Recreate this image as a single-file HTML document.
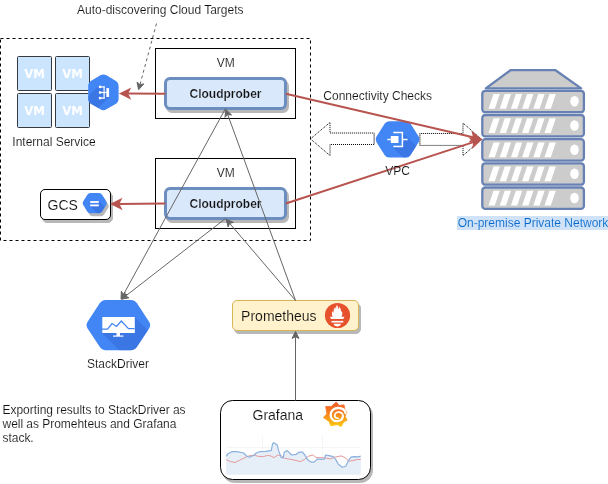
<!DOCTYPE html>
<html lang="en"><head><meta charset="utf-8"><title>Cloudprober architecture</title>
<style>html,body{margin:0;padding:0;background:#fff;overflow:hidden}svg{display:block}text{white-space:pre}</style>
</head><body>
<svg width="608" height="484" viewBox="0 0 608 484" style="will-change:transform">
<defs><linearGradient id="gg" x1="0" y1="0" x2="0" y2="1"><stop offset="0" stop-color="#f05a28"/><stop offset="0.45" stop-color="#f7811f"/><stop offset="1" stop-color="#fbca0a"/></linearGradient></defs>
<rect width="608" height="484" fill="#fff"/>
<rect x="0.5" y="38.5" width="310" height="202" fill="none" stroke="#000" stroke-dasharray="3 3"/>
<polygon points="310.5,138.9 330,122.4 330,133.0 374.2,133.0 374.2,144.5 330,144.5 330,155.6" fill="#fff" stroke="#000" stroke-dasharray="1 1"/>
<path d="M374.2 133.0V144.5" stroke="#a0a0a0" stroke-width="1.2" fill="none"/>
<polygon points="481.5,139.3 463,123.0 463,133.5 419.8,133.5 419.8,145.4 463,145.4 463,155.6" fill="#fff" stroke="#000" stroke-dasharray="1 1"/>
<path d="M419.8 133.5V145.4" stroke="#a0a0a0" stroke-width="1.2" fill="none"/>
<rect x="155.5" y="48.5" width="140" height="70" fill="#fff" stroke="#000"/>
<text x="225.8" y="66.5" font-family="'Liberation Sans', Arial, Helvetica, sans-serif" font-size="12px" font-weight="normal" text-anchor="middle" fill="#111" stroke="#fff" stroke-width="0.12">VM</text>
<rect x="155.5" y="158.5" width="140" height="70" fill="#fff" stroke="#000"/>
<text x="225.8" y="176.5" font-family="'Liberation Sans', Arial, Helvetica, sans-serif" font-size="12px" font-weight="normal" text-anchor="middle" fill="#111" stroke="#fff" stroke-width="0.12">VM</text>
<rect x="17.5" y="56.5" width="34" height="34" rx="1" fill="#cce5ff" stroke="#36393d"/>
<text x="34.5" y="78.0" font-family="'DejaVu Sans', 'Liberation Sans', sans-serif" font-size="11.7px" font-weight="bold" text-anchor="middle" fill="#fff">VM</text>
<rect x="55.5" y="56.5" width="34" height="34" rx="1" fill="#cce5ff" stroke="#36393d"/>
<text x="72.5" y="78.0" font-family="'DejaVu Sans', 'Liberation Sans', sans-serif" font-size="11.7px" font-weight="bold" text-anchor="middle" fill="#fff">VM</text>
<rect x="17.5" y="93.5" width="34" height="34" rx="1" fill="#cce5ff" stroke="#36393d"/>
<text x="34.5" y="115.0" font-family="'DejaVu Sans', 'Liberation Sans', sans-serif" font-size="11.7px" font-weight="bold" text-anchor="middle" fill="#fff">VM</text>
<rect x="55.5" y="93.5" width="34" height="34" rx="1" fill="#cce5ff" stroke="#36393d"/>
<text x="72.5" y="115.0" font-family="'DejaVu Sans', 'Liberation Sans', sans-serif" font-size="11.7px" font-weight="bold" text-anchor="middle" fill="#fff">VM</text>
<text x="54" y="146" font-family="'Liberation Sans', Arial, Helvetica, sans-serif" font-size="12px" font-weight="normal" text-anchor="middle" fill="#111" stroke="#fff" stroke-width="0.12">Internal Service</text>
<rect x="167.5" y="81.5" width="120" height="30" rx="4.5" ry="4.5" fill="#b8b8b8" stroke="#b8b8b8" stroke-width="3"/>
<rect x="165.5" y="78.5" width="120" height="30" rx="4.5" ry="4.5" fill="#dae8fc" stroke="#6c8ebf" stroke-width="3"/>
<text x="225.5" y="98.0" font-family="'Liberation Sans', Arial, Helvetica, sans-serif" font-size="12px" font-weight="bold" text-anchor="middle" fill="#111" stroke="#dae8fc" stroke-width="0.2">Cloudprober</text>
<rect x="167.5" y="191.5" width="120" height="30" rx="4.5" ry="4.5" fill="#b8b8b8" stroke="#b8b8b8" stroke-width="3"/>
<rect x="165.5" y="188.5" width="120" height="30" rx="4.5" ry="4.5" fill="#dae8fc" stroke="#6c8ebf" stroke-width="3"/>
<text x="225.5" y="208.0" font-family="'Liberation Sans', Arial, Helvetica, sans-serif" font-size="12px" font-weight="bold" text-anchor="middle" fill="#111" stroke="#dae8fc" stroke-width="0.2">Cloudprober</text>
<rect x="42.5" y="192.5" width="70" height="30" rx="4.5" ry="4.5" fill="#b8b8b8" stroke="#b8b8b8" stroke-width="1"/>
<rect x="40.5" y="189.5" width="70" height="30" rx="4.5" ry="4.5" fill="#fff" stroke="#000" stroke-width="1"/>
<text x="47.5" y="209.5" font-family="'Liberation Sans', Arial, Helvetica, sans-serif" font-size="14px" font-weight="normal" text-anchor="start" fill="#111" stroke="#fff" stroke-width="0.12">GCS</text>
<path d="M83.12 204.84Q82.06 203.15 83.12 201.46L87.32 194.79Q88.38 193.10 90.38 193.10L99.02 193.10Q101.02 193.10 102.08 194.79L106.28 201.46Q107.34 203.15 106.28 204.84L102.08 211.51Q101.02 213.20 99.02 213.20L90.38 213.20Q88.38 213.20 87.32 211.51Z" fill="#b8b8b8" transform="translate(2,3)"/>
<clipPath id="hx1"><path d="M83.12 204.84Q82.06 203.15 83.12 201.46L87.32 194.79Q88.38 193.10 90.38 193.10L99.02 193.10Q101.02 193.10 102.08 194.79L106.28 201.46Q107.34 203.15 106.28 204.84L102.08 211.51Q101.02 213.20 99.02 213.20L90.38 213.20Q88.38 213.20 87.32 211.51Z"/></clipPath>
<path d="M83.12 204.84Q82.06 203.15 83.12 201.46L87.32 194.79Q88.38 193.10 90.38 193.10L99.02 193.10Q101.02 193.10 102.08 194.79L106.28 201.46Q107.34 203.15 106.28 204.84L102.08 211.51Q101.02 213.20 99.02 213.20L90.38 213.20Q88.38 213.20 87.32 211.51Z" fill="#4285f4"/>
<g clip-path="url(#hx1)"><path d="M90.2 206.3L98.8 206.3L98.8 201.1L120 222.3L106 222.3Z" fill="#3367d6" opacity="0.5"/></g>
<g fill="#fff"><rect x="90.200" y="201.100" width="8.600" height="1.800"/><rect x="90.200" y="204.500" width="8.600" height="1.800"/></g>
<rect x="234.5" y="303.5" width="126" height="30" rx="4.5" ry="4.5" fill="#b8b8b8" stroke="#b8b8b8" stroke-width="1"/>
<rect x="232.5" y="300.5" width="126" height="30" rx="4.5" ry="4.5" fill="#fff2cc" stroke="#d6b656" stroke-width="1"/>
<text x="241.1" y="321" font-family="'Liberation Sans', Arial, Helvetica, sans-serif" font-size="14px" font-weight="normal" text-anchor="start" fill="#111" stroke="#fff2cc" stroke-width="0.12">Prometheus</text>
<circle cx="337.5" cy="315.5" r="12.6" fill="#e6522c"/>
<g fill="#fff"><path d="M336.900 304.800c0.900 1.600 1.500 2.900 1.300 4.500c0.700-0.700 1.100-1.700 1-2.800c1.400 1.800 2.100 3.800 1.800 5.800c0.500-0.300 0.700-0.900 0.800-1.500c0.800 2 0.700 4.100-0.300 6.100h-8.800c-1-2-1.100-4.200-0.200-5.900c0.200 0.800 0.500 1.400 1.100 1.800c-0.400-2.600 0.500-4.600 1.900-5.900c-0.100 0.800 0.100 1.500 0.500 2.100c0-1.500 0.300-2.900 0.900-4.200z"/><path d="M329.900 316.800h14.600l-1.200 2.300h-12.200z"/><rect x="331.500" y="320.900" width="11.800" height="1.600"/><path d="M333.500 323.700h7.600c-0.700 1.800-2 2.700-3.800 2.700s-3.100-0.900-3.800-2.700z"/></g>
<rect x="222.5" y="403.5" width="150" height="79" rx="12" ry="12" fill="#b8b8b8" stroke="#b8b8b8" stroke-width="1"/>
<rect x="220.5" y="400.5" width="150" height="79" rx="12" ry="12" fill="#fff" stroke="#000" stroke-width="1"/>
<text x="252.5" y="419.5" font-family="'Liberation Sans', Arial, Helvetica, sans-serif" font-size="14px" font-weight="normal" text-anchor="start" fill="#111" stroke="#fff" stroke-width="0.12">Grafana</text>
<path d="M226.5 447.500H361M262.500 435V474.500M322.500 435V474.500" stroke="#f4f5f7" fill="none"/>
<polygon points="226.2,456.3 227.9,453.7 231.8,451.7 237.1,451.7 243.7,453.0 247.0,456.3 249.6,457.2 254.2,455.0 256.2,453.0 259.5,451.7 266.1,451.4 271.3,450.4 272.6,443.8 273.9,442.7 277.2,445.1 278.6,450.4 281.2,457.6 283.2,458.0 284.2,452.3 287.1,450.6 289.7,453.0 291.7,455.0 296.3,454.3 298.9,452.3 302.2,451.9 304.9,455.0 307.5,459.6 310.8,461.9 314.1,462.2 317.4,458.9 321.3,459.3 324.6,458.9 325.5,455.0 329.2,455.6 333.2,456.7 335.8,459.6 338.4,464.2 342.4,467.2 345.7,466.2 348.3,460.9 350.9,457.2 354.2,456.7 358.2,456.9 360.8,456.0 360.8,474.7 226.2,474.7" fill="#e6eef8"/>
<polyline points="226.2,459.6 230.5,461.6 235.1,462.5 239.7,460.2 245.0,457.6 250.3,455.4 254.5,455.4 258.2,456.3 263.4,456.6 267.4,455.4 270.7,455.9 273.9,457.6 277.9,455.0 281.2,455.6 284.5,458.3 289.7,459.2 295.0,460.2 300.3,461.6 304.2,459.6 308.2,456.3 312.8,455.0 316.1,457.6 319.3,457.6 325.3,458.0 330.5,458.9 334.5,457.2 341.1,455.9 345.0,457.6 348.9,461.2 352.9,460.6 356.8,459.6 360.8,459.3" fill="none" stroke="#e39a9a" stroke-width="1" stroke-linejoin="round"/>
<polyline points="226.2,456.3 227.9,453.7 231.8,451.7 237.1,451.7 243.7,453.0 247.0,456.3 249.6,457.2 254.2,455.0 256.2,453.0 259.5,451.7 266.1,451.4 271.3,450.4 272.6,443.8 273.9,442.7 277.2,445.1 278.6,450.4 281.2,457.6 283.2,458.0 284.2,452.3 287.1,450.6 289.7,453.0 291.7,455.0 296.3,454.3 298.9,452.3 302.2,451.9 304.9,455.0 307.5,459.6 310.8,461.9 314.1,462.2 317.4,458.9 321.3,459.3 324.6,458.9 325.5,455.0 329.2,455.6 333.2,456.7 335.8,459.6 338.4,464.2 342.4,467.2 345.7,466.2 348.3,460.9 350.9,457.2 354.2,456.7 358.2,456.9 360.8,456.0" fill="none" stroke="#8ab0de" stroke-width="1.2" stroke-linejoin="round"/>
<polygon points="336.2,402.1 339.2,405.4 344.1,404.9 344.6,408.8 346.9,412.5 345.1,416.2 347.1,420.2 343.6,422.1 341.2,426.6 337.2,424.6 330.8,425.8 329.3,421.7 323.4,417.5 326.8,413.8 325.7,406.6 331.3,406.4" fill="url(#gg)" stroke="url(#gg)" stroke-width="0.8" stroke-linejoin="round"/>
<g transform="translate(336.8 414.6) scale(0.93) translate(-336.8 -414.6)">
<path d="M346.3 413C345.600 409.600 342.300 407.400 337.700 407.500C333.100 407.600 330 411.100 330.200 415.200C330.400 419.200 333.500 421.800 337.200 421.700C340.900 421.600 343.500 419.200 343.400 416.200" fill="none" stroke="#fff" stroke-width="2.500" stroke-linecap="round"/>
<path d="M343.400 416.200C343.300 413.500 341.100 411.800 338.200 411.900C335.900 412 334.400 413.800 334.600 415.800C334.800 417.600 336.300 418.700 338.200 418.500" fill="none" stroke="#fff" stroke-width="1.800" stroke-linecap="round"/>
</g>
<clipPath id="hx2"><path d="M100.38 75.33Q103.40 73.56 106.42 75.33L115.58 80.73Q118.60 82.50 118.60 86.00L118.60 98.70Q118.60 102.20 115.58 103.97L106.42 109.37Q103.40 111.14 100.38 109.37L91.22 103.97Q88.20 102.20 88.20 98.70L88.20 86.00Q88.20 82.50 91.22 80.73Z"/></clipPath>
<path d="M100.38 75.33Q103.40 73.56 106.42 75.33L115.58 80.73Q118.60 82.50 118.60 86.00L118.60 98.70Q118.60 102.20 115.58 103.97L106.42 109.37Q103.40 111.14 100.38 109.37L91.22 103.97Q88.20 102.20 88.20 98.70L88.20 86.00Q88.20 82.50 91.22 80.73Z" fill="#4285f4"/>
<g clip-path="url(#hx2)"><path d="M98.9 85.7L106.3 88.1L109.1 88.1L109.1 97L79.1 127L68.9 115.7Z" fill="#3367d6" opacity="0.5"/></g>
<g fill="#fff"><rect x="98.900" y="85.700" width="2.400" height="2.400"/><rect x="98.900" y="91.300" width="2.400" height="2.400"/><rect x="98.900" y="96.900" width="2.400" height="2.400"/><rect x="106.300" y="88.100" width="2.800" height="8.900"/><rect x="101" y="86.350" width="3.600" height="1.200"/><rect x="101" y="91.900" width="5.500" height="1.200"/><rect x="101" y="97.500" width="3.600" height="1.200"/><rect x="103.500" y="86.350" width="1.200" height="12.350"/></g>
<clipPath id="hx3"><path d="M376.39 141.94Q374.79 139.40 376.39 136.86L384.60 123.84Q386.20 121.30 389.20 121.30L406.00 121.30Q409.00 121.30 410.60 123.84L418.81 136.86Q420.41 139.40 418.81 141.94L410.60 154.96Q409.00 157.50 406.00 157.50L389.20 157.50Q386.20 157.50 384.60 154.96Z"/></clipPath>
<path d="M376.39 141.94Q374.79 139.40 376.39 136.86L384.60 123.84Q386.20 121.30 389.20 121.30L406.00 121.30Q409.00 121.30 410.60 123.84L418.81 136.86Q420.41 139.40 418.81 141.94L410.60 154.96Q409.00 157.50 406.00 157.50L389.20 157.50Q386.20 157.50 384.60 154.96Z" fill="#4285f4"/>
<g clip-path="url(#hx3)"><path d="M392 146.500L402.500 146.500L402.500 132.500L440 170L415.500 170Z" fill="#3367d6" opacity="0.5"/></g>
<g fill="none" stroke="#fff" stroke-width="1.5"><path d="M393.300 132.600H402.400V146.400H393.300M387.300 139.500H391M402.400 139.500H407.600"/></g><rect x="390.800" y="136" width="7.700" height="7" fill="#fff"/>
<clipPath id="hx4"><path d="M87.61 328.44Q85.42 325.10 87.61 321.76L99.69 303.34Q101.89 300.00 105.89 300.00L130.81 300.00Q134.81 300.00 137.01 303.34L149.09 321.76Q151.28 325.10 149.09 328.44L137.01 346.86Q134.81 350.20 130.81 350.20L105.89 350.20Q101.89 350.20 99.69 346.86Z"/></clipPath>
<path d="M87.61 328.44Q85.42 325.10 87.61 321.76L99.69 303.34Q101.89 300.00 105.89 300.00L130.81 300.00Q134.81 300.00 137.01 303.34L149.09 321.76Q151.28 325.10 149.09 328.44L137.01 346.86Q134.81 350.20 130.81 350.20L105.89 350.20Q101.89 350.20 99.69 346.86Z" fill="#4285f4"/>
<g clip-path="url(#hx4)"><path d="M102 333L134.500 333L134.500 317L180 362.500L131.500 362.500Z" fill="#3367d6" opacity="0.5"/></g>
<g fill="#fff"><path d="M102.300 317h32.500v16h-32.500z"/><rect x="116.500" y="333" width="3.500" height="3"/><rect x="113" y="335.500" width="10.500" height="1.200"/></g><path d="M102 329.200H107.500L112 323.500L116.500 326.500L121.300 321L128.500 328.600H134.500" stroke="#4285f4" stroke-width="1.300" fill="none"/>
<g stroke="#6881b3" stroke-width="2.300" fill="#cccccc" stroke-linejoin="round">
<path d="M485.800 88.400L510.500 70.200H555.500L581.200 88.400Z"/>
<rect x="482.3" y="90.8" width="101.6" height="21.4" rx="3" ry="3"/>
<rect x="482.3" y="115.0" width="101.6" height="21.4" rx="3" ry="3"/>
<rect x="482.3" y="139.2" width="101.6" height="21.4" rx="3" ry="3"/>
<rect x="482.3" y="163.3" width="101.6" height="21.4" rx="3" ry="3"/>
<rect x="482.3" y="187.5" width="101.6" height="21.4" rx="3" ry="3"/>
</g>
<path d="M488.5 108.8L493.5 94.1H499.8L494.8 108.8Z" fill="#fff"/>
<path d="M499.7 108.8L504.7 94.1H511.0L506.0 108.8Z" fill="#fff"/>
<path d="M510.9 108.8L515.9 94.1H522.2L517.2 108.8Z" fill="#fff"/>
<path d="M522.1 108.8L527.1 94.1H533.4L528.4 108.8Z" fill="#fff"/>
<path d="M533.3 108.8L538.3 94.1H544.6L539.6 108.8Z" fill="#fff"/>
<path d="M544.5 108.8L549.5 94.1H555.8L550.8 108.8Z" fill="#fff"/>
<ellipse cx="574.500" cy="101.3" rx="4.300" ry="5.300" fill="#fff"/>
<path d="M488.5 133.0L493.5 118.3H499.8L494.8 133.0Z" fill="#fff"/>
<path d="M499.7 133.0L504.7 118.3H511.0L506.0 133.0Z" fill="#fff"/>
<path d="M510.9 133.0L515.9 118.3H522.2L517.2 133.0Z" fill="#fff"/>
<path d="M522.1 133.0L527.1 118.3H533.4L528.4 133.0Z" fill="#fff"/>
<path d="M533.3 133.0L538.3 118.3H544.6L539.6 133.0Z" fill="#fff"/>
<path d="M544.5 133.0L549.5 118.3H555.8L550.8 133.0Z" fill="#fff"/>
<ellipse cx="574.500" cy="125.5" rx="4.300" ry="5.300" fill="#fff"/>
<path d="M488.5 157.2L493.5 142.5H499.8L494.8 157.2Z" fill="#fff"/>
<path d="M499.7 157.2L504.7 142.5H511.0L506.0 157.2Z" fill="#fff"/>
<path d="M510.9 157.2L515.9 142.5H522.2L517.2 157.2Z" fill="#fff"/>
<path d="M522.1 157.2L527.1 142.5H533.4L528.4 157.2Z" fill="#fff"/>
<path d="M533.3 157.2L538.3 142.5H544.6L539.6 157.2Z" fill="#fff"/>
<path d="M544.5 157.2L549.5 142.5H555.8L550.8 157.2Z" fill="#fff"/>
<ellipse cx="574.500" cy="149.7" rx="4.300" ry="5.300" fill="#fff"/>
<path d="M488.5 181.3L493.5 166.6H499.8L494.8 181.3Z" fill="#fff"/>
<path d="M499.7 181.3L504.7 166.6H511.0L506.0 181.3Z" fill="#fff"/>
<path d="M510.9 181.3L515.9 166.6H522.2L517.2 181.3Z" fill="#fff"/>
<path d="M522.1 181.3L527.1 166.6H533.4L528.4 181.3Z" fill="#fff"/>
<path d="M533.3 181.3L538.3 166.6H544.6L539.6 181.3Z" fill="#fff"/>
<path d="M544.5 181.3L549.5 166.6H555.8L550.8 181.3Z" fill="#fff"/>
<ellipse cx="574.500" cy="173.8" rx="4.300" ry="5.300" fill="#fff"/>
<path d="M488.5 205.5L493.5 190.8H499.8L494.8 205.5Z" fill="#fff"/>
<path d="M499.7 205.5L504.7 190.8H511.0L506.0 205.5Z" fill="#fff"/>
<path d="M510.9 205.5L515.9 190.8H522.2L517.2 205.5Z" fill="#fff"/>
<path d="M522.1 205.5L527.1 190.8H533.4L528.4 205.5Z" fill="#fff"/>
<path d="M533.3 205.5L538.3 190.8H544.6L539.6 205.5Z" fill="#fff"/>
<path d="M544.5 205.5L549.5 190.8H555.8L550.8 205.5Z" fill="#fff"/>
<ellipse cx="574.500" cy="198.0" rx="4.300" ry="5.300" fill="#fff"/>
<rect x="457" y="216" width="151" height="14" fill="#cfe2f7"/>
<path d="M285.80 93.70L474.08 137.44" fill="none" stroke="#b85450" stroke-width="2" stroke-miterlimit="10"/>
<polygon points="479.92,138.79 471.22,140.88 474.08,137.44 473.03,133.09" fill="#b85450" stroke="#b85450" stroke-width="2" stroke-miterlimit="10"/>
<path d="M285.80 203.50L474.27 141.86" fill="none" stroke="#b85450" stroke-width="2" stroke-miterlimit="10"/>
<polygon points="479.97,140.00 473.61,146.28 474.27,141.86 471.13,138.68" fill="#b85450" stroke="#b85450" stroke-width="2" stroke-miterlimit="10"/>
<path d="M165.50 93.70L127.04 93.62" fill="none" stroke="#b85450" stroke-width="2" stroke-miterlimit="10"/>
<polygon points="121.04,93.60 129.04,89.62 127.04,93.62 129.03,97.62" fill="#b85450" stroke="#b85450" stroke-width="2" stroke-miterlimit="10"/>
<path d="M165.50 203.50L118.34 203.93" fill="none" stroke="#b85450" stroke-width="2" stroke-miterlimit="10"/>
<polygon points="112.34,203.98 120.30,199.91 118.34,203.93 120.37,207.91" fill="#b85450" stroke="#b85450" stroke-width="2" stroke-miterlimit="10"/>
<path d="M225.50 108.50L123.56 294.42" fill="none" stroke="#666666" stroke-width="1" stroke-miterlimit="10"/>
<polygon points="121.04,299.02 121.33,291.20 123.56,294.42 127.47,294.56" fill="#666666" stroke="#666666" stroke-width="1" stroke-miterlimit="10"/>
<path d="M225.50 218.50L125.53 296.10" fill="none" stroke="#666666" stroke-width="1" stroke-miterlimit="10"/>
<polygon points="121.38,299.31 124.77,292.26 125.53,296.10 129.06,297.79" fill="#666666" stroke="#666666" stroke-width="1" stroke-miterlimit="10"/>
<path d="M295.50 300.50L227.68 114.48" fill="none" stroke="#666666" stroke-width="1" stroke-miterlimit="10"/>
<polygon points="225.88,109.55 231.57,114.93 227.68,114.48 224.99,117.33" fill="#666666" stroke="#666666" stroke-width="1" stroke-miterlimit="10"/>
<path d="M295.50 300.50L229.63 223.34" fill="none" stroke="#666666" stroke-width="1" stroke-miterlimit="10"/>
<polygon points="226.23,219.35 233.43,222.40 229.63,223.34 228.11,226.95" fill="#666666" stroke="#666666" stroke-width="1" stroke-miterlimit="10"/>
<path d="M295.50 400.50L295.50 336.67" fill="none" stroke="#666666" stroke-width="1" stroke-miterlimit="10"/>
<polygon points="295.50,331.42 299.00,338.42 295.50,336.67 292.00,338.42" fill="#666666" stroke="#666666" stroke-width="1" stroke-miterlimit="10"/>
<path d="M156.50 23.50L139.96 84.65" fill="none" stroke="#666666" stroke-width="1" stroke-miterlimit="10" stroke-dasharray="3 3"/>
<polygon points="138.59,89.72 137.04,82.05 139.96,84.65 143.80,83.88" fill="#666666" stroke="#666666" stroke-width="1" stroke-miterlimit="10"/>
<text x="160.3" y="14" font-family="'Liberation Sans', Arial, Helvetica, sans-serif" font-size="12px" font-weight="normal" text-anchor="middle" fill="#111" stroke="#fff" stroke-width="0.12">Auto-discovering Cloud Targets</text>
<text x="377.7" y="100" font-family="'Liberation Sans', Arial, Helvetica, sans-serif" font-size="12px" font-weight="normal" text-anchor="middle" fill="#111" stroke="#fff" stroke-width="0.12">Connectivity Checks</text>
<text x="397.5" y="175" font-family="'Liberation Sans', Arial, Helvetica, sans-serif" font-size="12px" font-weight="normal" text-anchor="middle" fill="#111" stroke="#fff" stroke-width="0.12">VPC</text>
<text x="533" y="227" font-family="'Liberation Sans', Arial, Helvetica, sans-serif" font-size="12px" font-weight="normal" text-anchor="middle" fill="#0066cc" stroke="#cfe2f7" stroke-width="0.12">On-premise Private Network</text>
<text x="118" y="368" font-family="'Liberation Sans', Arial, Helvetica, sans-serif" font-size="12px" font-weight="normal" text-anchor="middle" fill="#111" stroke="#fff" stroke-width="0.12">StackDriver</text>
<text x="2.5" y="413.7" font-family="'Liberation Sans', Arial, Helvetica, sans-serif" font-size="12px" font-weight="normal" text-anchor="start" fill="#111" letter-spacing="-0.03" stroke="#fff" stroke-width="0.12">Exporting results to StackDriver as</text>
<text x="2.5" y="427.7" font-family="'Liberation Sans', Arial, Helvetica, sans-serif" font-size="12px" font-weight="normal" text-anchor="start" fill="#111" letter-spacing="-0.03" stroke="#fff" stroke-width="0.12">well as Promehteus and Grafana</text>
<text x="2.5" y="441.7" font-family="'Liberation Sans', Arial, Helvetica, sans-serif" font-size="12px" font-weight="normal" text-anchor="start" fill="#111" letter-spacing="-0.03" stroke="#fff" stroke-width="0.12">stack.</text>
</svg>
</body></html>
